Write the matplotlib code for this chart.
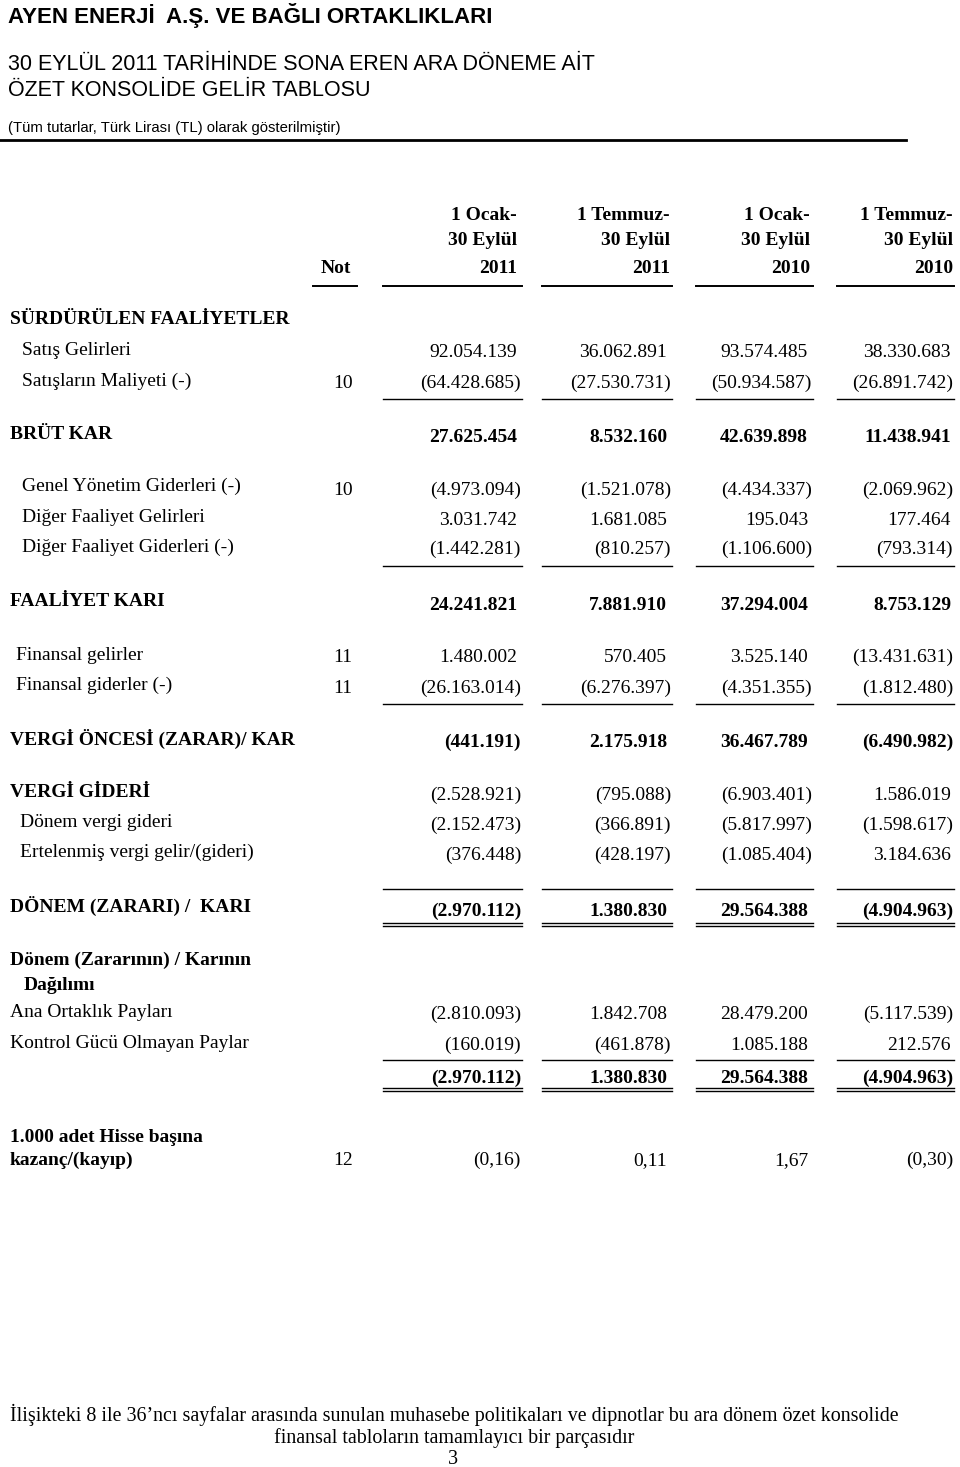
'''
Ayen Enerji - ozet konsolide gelir tablosu (30 Eylul 2011)
'''

import matplotlib
matplotlib.use('Agg')
import matplotlib.pyplot as plt

# column headers
col_head1 = ['1 Ocak-', '1 Temmuz-', '1 Ocak-', '1 Temmuz-']
col_head2 = ['30 Eylül', '30 Eylül', '30 Eylül', '30 Eylül']
col_years = ['2011', '2011', '2010', '2010']

# row labels and notes
row_labels = ['Satış Gelirleri', 'Satışların Maliyeti (-)', 'BRÜT KAR',
              'Genel Yönetim Giderleri (-)', 'Diğer Faaliyet Gelirleri',
              'Diğer Faaliyet Giderleri (-)', 'FAALİYET KARI',
              'Finansal gelirler', 'Finansal giderler (-)',
              'VERGİ ÖNCESİ (ZARAR)/ KAR', 'VERGİ GİDERİ',
              'Dönem vergi gideri', 'Ertelenmiş vergi gelir/(gideri)',
              'DÖNEM (ZARARI) /  KARI', 'Ana Ortaklık Payları',
              'Kontrol Gücü Olmayan Paylar', '']
row_notes = ['', '10', '', '10', '', '', '', '11', '11', '', '', '', '', '', '', '', '']

# values (TL)
jan_sep_2011 = [92054139, -64428685, 27625454, -4973094, 3031742, -1442281, 24241821,
                1480002, -26163014, -441191, -2528921, -2152473, -376448, -2970112,
                -2810093, -160019, -2970112]
jul_sep_2011 = [36062891, -27530731, 8532160, -1521078, 1681085, -810257, 7881910,
                570405, -6276397, 2175918, -795088, -366891, -428197, 1380830,
                1842708, -461878, 1380830]
jan_sep_2010 = [93574485, -50934587, 42639898, -4434337, 195043, -1106600, 37294004,
                3525140, -4351355, 36467789, -6903401, -5817997, -1085404, 29564388,
                28479200, 1085188, 29564388]
jul_sep_2010 = [38330683, -26891742, 11438941, -2069962, 177464, -793314, 8753129,
                -13431631, -1812480, -6490982, 1586019, -1598617, 3184636, -4904963,
                -5117539, 212576, -4904963]

# earnings per 1.000 shares
eps_note = '12'
eps_values = [-0.16, 0.11, 1.67, -0.30]

# layout (pixels, baselines)
label_y = [355, 386, 439, 491, 522, 552, 606, 660, 690, 745, 797, 827, 857, 912, 1017, 1048, 1083]
value_y = [357, 388, 442, 495, 525, 554, 610, 662, 693, 747, 800, 830, 860, 916, 1019, 1050, 1083]
label_x = [22, 22, 10, 22, 22, 22, 10, 16, 16, 10, 10, 20, 20, 10, 10, 10, 10]
bold_label = [False, False, True, False, False, False, True, False, False, True, True,
              False, False, True, False, False, False]
bold_value = [False, False, True, False, False, False, True, False, False, True, False,
              False, False, True, False, False, True]
neg_right = [521, 671, 812, 953]
pos_right = [517, 667, 808, 951]
head_right = [517, 670, 810, 953]
col_left = [383, 542, 696, 837]
note_x = 343


def fmt(v):
    s = '{:,}'.format(abs(v)).replace(',', '.')
    return '(' + s + ')' if v < 0 else s


def fmt_eps(v):
    s = '{:.2f}'.format(abs(v)).replace('.', ',')
    return '(' + s + ')' if v < 0 else s


def put_value(ax, c, y, s, bold):
    x = neg_right[c] if s.endswith(')') else pos_right[c]
    ax.text(x, y, s, ha='right', va='baseline', fontsize=14, family='Liberation Serif',
            fontweight='bold' if bold else 'normal')


def col_lines(ax, y, lw=1.0):
    for l, r in zip(col_left, neg_right):
        ax.plot([l, r + 1], [y, y], color='black', lw=lw)


def draw_table():
    fig = plt.figure(figsize=(9.6, 14.67), dpi=100)
    ax = fig.add_axes([0, 0, 1, 1])
    ax.set_xlim(0, 960)
    ax.set_ylim(1467, 0)
    ax.axis('off')

    sans = 'Liberation Sans'
    serif = 'Liberation Serif'

    ax.text(8, 15, 'AYEN ENERJİ  A.Ş. VE BAĞLI ORTAKLIKLARI', fontsize=16,
            family=sans, fontweight='bold', va='center')
    ax.text(8, 65, '30 EYLÜL 2011 TARİHİNDE SONA EREN ARA DÖNEME AİT', fontsize=15.5,
            family=sans, va='center')
    ax.text(8, 90, 'ÖZET KONSOLİDE GELİR TABLOSU', fontsize=15.5, family=sans, va='center')
    ax.text(8, 128, '(Tüm tutarlar, Türk Lirası (TL) olarak gösterilmiştir)', fontsize=10.7,
            family=sans, va='center')
    ax.plot([0, 906], [140, 140], color='black', lw=2)

    # headers
    for i in range(4):
        for y, s in zip([220, 245, 273], [col_head1[i], col_head2[i], col_years[i]]):
            ax.text(head_right[i], y, s, ha='right', va='baseline', fontsize=14,
                    family=serif, fontweight='bold')
    ax.text(336, 273, 'Not', ha='center', va='baseline', fontsize=14, family=serif,
            fontweight='bold')
    ax.plot([313, 357], [286, 286], color='black', lw=1.4)
    col_lines(ax, 286, 1.4)

    ax.text(10, 324, 'SÜRDÜRÜLEN FAALİYETLER', fontsize=14, family=serif,
            fontweight='bold', va='baseline')

    cols = [jan_sep_2011, jul_sep_2011, jan_sep_2010, jul_sep_2010]
    for r, lab in enumerate(row_labels):
        if lab:
            ax.text(label_x[r], label_y[r], lab, fontsize=14, family=serif, va='baseline',
                    fontweight='bold' if bold_label[r] else 'normal')
        if row_notes[r]:
            ax.text(note_x, value_y[r], row_notes[r], ha='center', va='baseline',
                    fontsize=14, family=serif)
        for c in range(4):
            put_value(ax, c, value_y[r], fmt(cols[c][r]), bold_value[r])

    # rules
    col_lines(ax, 399)
    col_lines(ax, 566)
    col_lines(ax, 704)
    col_lines(ax, 889)
    col_lines(ax, 923)
    col_lines(ax, 926)
    col_lines(ax, 1060)
    col_lines(ax, 1088)
    col_lines(ax, 1091)

    ax.text(10, 965, 'Dönem (Zararının) / Karının', fontsize=14, family=serif,
            fontweight='bold', va='baseline')
    ax.text(24, 990, 'Dağılımı', fontsize=14, family=serif, fontweight='bold',
            va='baseline')

    # earnings per share
    ax.text(10, 1142, '1.000 adet Hisse başına', fontsize=14, family=serif,
            fontweight='bold', va='baseline')
    ax.text(10, 1165, 'kazanç/(kayıp)', fontsize=14, family=serif, fontweight='bold',
            va='baseline')
    ax.text(note_x, 1165, eps_note, ha='center', va='baseline', fontsize=14, family=serif)
    for c in range(4):
        put_value(ax, c, 1165, fmt_eps(eps_values[c]), False)

    # footer
    ax.text(454, 1415, 'İlişikteki 8 ile 36’ncı sayfalar arasında sunulan muhasebe '
            'politikaları ve dipnotlar bu ara dönem özet konsolide', ha='center',
            va='center', fontsize=14.4, family=serif)
    ax.text(454, 1438, 'finansal tabloların tamamlayıcı bir parçasıdır', ha='center',
            va='center', fontsize=14.4, family=serif)
    ax.text(453, 1460, '3', ha='center', va='center', fontsize=14.4, family=serif)

    fig.savefig('out.png', dpi=100)


if __name__ == '__main__':
    draw_table()
